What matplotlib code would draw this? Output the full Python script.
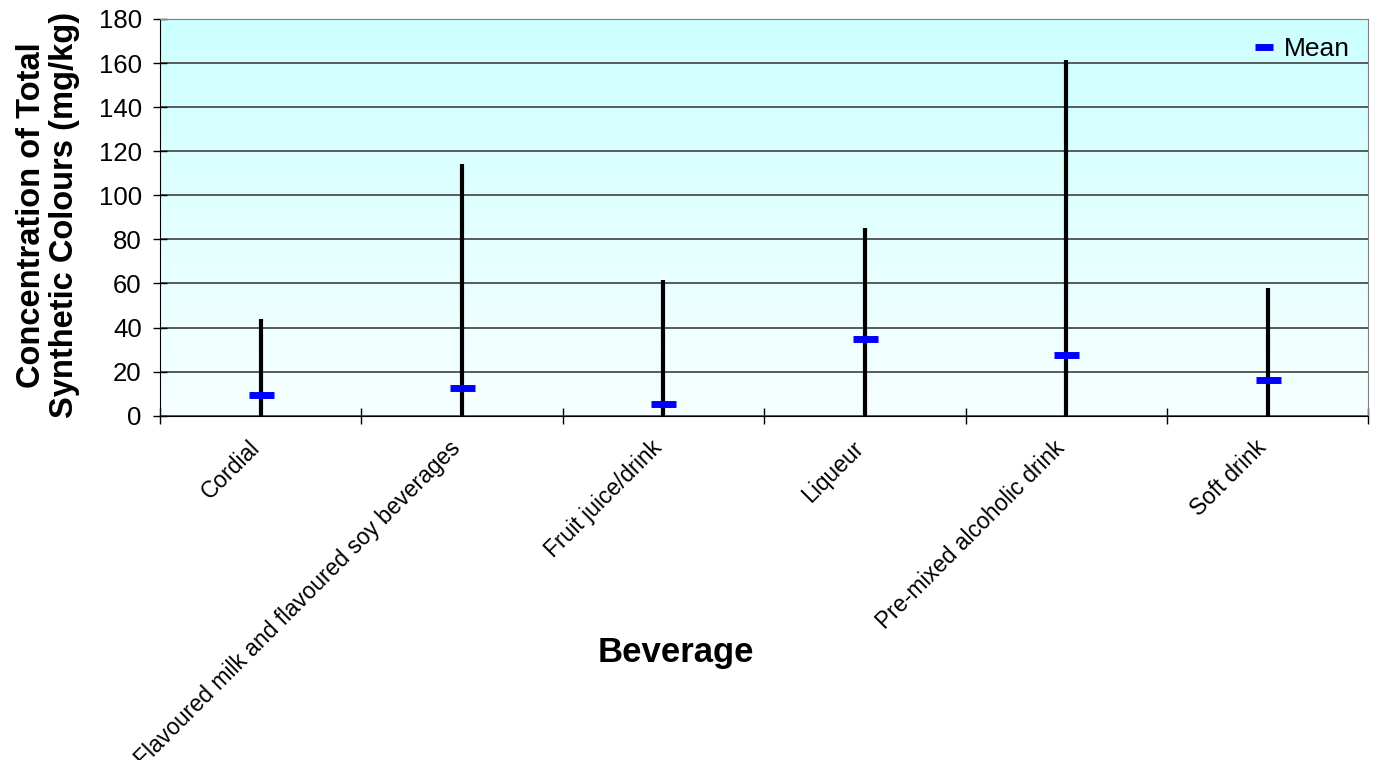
import numpy as np
import matplotlib.pyplot as plt
from matplotlib.colors import LinearSegmentedColormap

plt.rcParams['font.family'] = ['Liberation Sans', 'DejaVu Sans']

# Data
beverages = ['Cordial', 'Flavoured milk and flavoured soy beverages', 'Fruit juice/drink',
             'Liqueur', 'Pre-mixed alcoholic drink', 'Soft drink']
min_conc = [0, 0, 0, 0, 0, 0]
max_conc = [44, 114, 61.5, 85, 161.5, 58]
mean_conc = [9.5, 12.5, 5.3, 34.8, 27.5, 16.2]

fig = plt.figure(figsize=(13.78, 7.60), dpi=100)
ax = fig.add_axes([0.116, 0.453, 0.877, 0.522])

# background gradient (cyan at top fading to near-white)
cmap = LinearSegmentedColormap.from_list('bg', ['#F7FFFF', '#CCFFFF'])
grad = np.linspace(0, 1, 256).reshape(-1, 1)
ax.imshow(grad, cmap=cmap, aspect='auto', origin='lower',
          extent=[0, 1, 0, 1], transform=ax.transAxes, zorder=0)

x = np.arange(len(beverages))
ax.vlines(x, min_conc, max_conc, color='black', linewidth=3, zorder=3)
ax.plot(x, mean_conc, linestyle='none', marker='_', markersize=18,
        markeredgewidth=5, color='#0000FF', label='Mean', zorder=4)

ax.set_xlim(-0.5, len(beverages) - 0.5)
ax.set_ylim(0, 180)
ax.set_yticks(range(0, 181, 20))
ax.yaxis.grid(True, color='#404040', linewidth=1.2)
for gl in ax.get_ygridlines():
    gl.set_zorder(1)

# category ticks between groups, labels at the centres
ax.set_xticks(np.arange(-0.5, len(beverages)))
ax.set_xticklabels([])
ax.set_xticks(x, minor=True)
ax.set_xticklabels(beverages, minor=True, rotation=45, ha='right', va='baseline',
                   rotation_mode='anchor', fontsize=16.5)
ax.tick_params(axis='x', which='major', direction='inout', length=12, width=1)
ax.tick_params(axis='x', which='minor', length=0, pad=24)
ax.tick_params(axis='y', direction='inout', length=10, width=1, labelsize=18.5, pad=8)

ax.spines['top'].set_color('#808080')
ax.spines['right'].set_color('#808080')

ax.set_xlabel('Beverage', fontsize=25, fontweight='bold')
ax.xaxis.set_label_coords(0.427, -0.555)
ax.set_ylabel('Concentration of Total\nSynthetic Colours (mg/kg)', fontsize=23.5,
              fontweight='bold', linespacing=1.1)
ax.yaxis.set_label_coords(-0.066, 0.505)

ax.legend(loc='upper right', frameon=False, fontsize=19, handlelength=0.9,
          handletextpad=0.3, markerscale=0.75, borderaxespad=0.3)

fig.savefig('out.png', dpi=100)
